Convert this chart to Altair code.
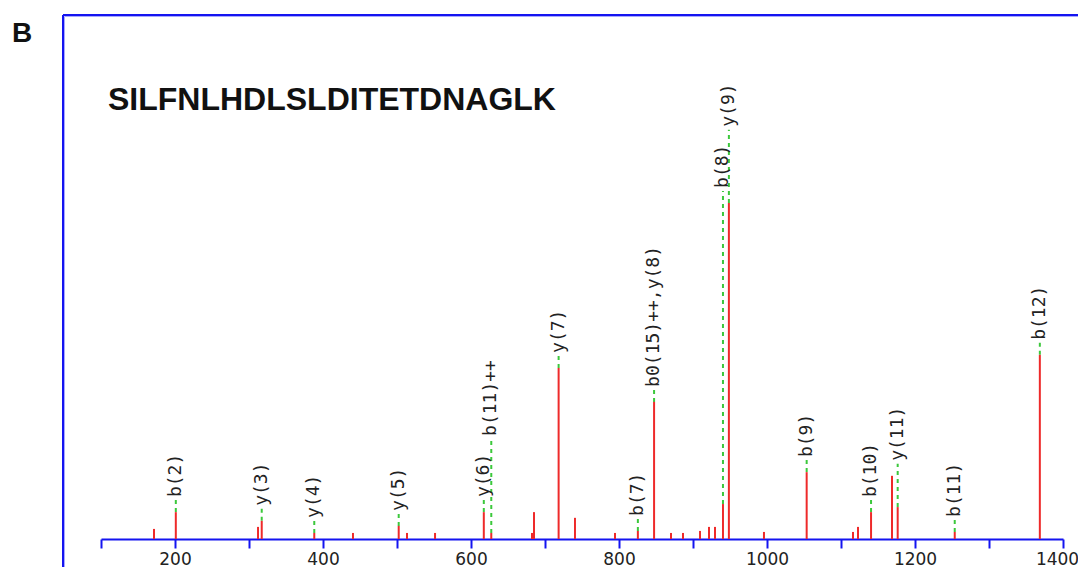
import altair as alt
import pandas as pd

# ---------------- data ----------------
peak_mz = [171.6, 201.1, 312.2, 317.2, 388.2, 440.5, 502.3, 513.5, 551.4, 617.3,
           627.4, 682.4, 685.1, 718.4, 740.5, 794.6, 825.5, 847.4, 870.3, 886.5,
           909.5, 921.6, 929.7, 940.5, 948.5, 995.9, 1053.6, 1116.2, 1123.0, 1140.6,
           1168.9, 1176.6, 1253.7, 1368.7]
peak_int = [3.0, 8.0, 3.6, 5.4, 1.8, 1.8, 3.9, 1.8, 1.8, 8.0,
            1.8, 1.8, 8.0, 50.9, 6.3, 1.8, 2.4, 40.8, 1.8, 1.8,
            2.4, 3.6, 3.6, 10.4, 100.0, 2.1, 19.9, 2.1, 3.6, 8.0,
            18.8, 9.5, 2.1, 54.8]
ion_labels = ["b(2)", "y(3)", "y(4)", "y(5)", "y(6)", "b(11)++", "y(7)", "b(7)",
              "b0(15)++,y(8)", "b(8)", "y(9)", "b(9)", "b(10)", "y(11)", "b(11)", "b(12)"]
ion_mz = [201.1, 317.2, 388.2, 502.3, 617.3, 627.4, 718.4, 825.5,
          847.4, 940.5, 948.5, 1053.6, 1140.6, 1176.6, 1253.7, 1368.7]
x_ticks = list(range(100, 1401, 100))
peptide = "SILFNLHDLSLDITETDNAGLK"
panel = "B"

# ---------------- layout ----------------
X_MIN, X_MAX = 100, 1400
Y_MAX = 158
PLOT_W, PLOT_H = 962, 531
PX_X = PLOT_W / (X_MAX - X_MIN)
PX_Y = PLOT_H / Y_MAX
CHAR_PX = 10.8     # advance of one label character
GAP_PEAK = 15      # px between peak top and label
GAP_LABEL = 18     # px between stacked labels

peaks = pd.DataFrame({"mz": peak_mz, "intensity": peak_int})

# place labels above local peaks, stacking them when they collide
placed = []
rows = []
for name, mz in zip(ion_labels, ion_mz):
    own = min(zip(peak_mz, peak_int), key=lambda p: abs(p[0] - mz))[1]
    near = max(i for m, i in zip(peak_mz, peak_int) if abs(m - mz) * PX_X <= 10)
    base = near * PX_Y + GAP_PEAK
    length = len(name) * CHAR_PX
    changed = True
    while changed:
        changed = False
        for (m2, b2, l2) in placed:
            if abs(m2 - mz) * PX_X < 16 and base < b2 + l2 + GAP_LABEL and base + length + GAP_LABEL > b2:
                base = b2 + l2 + GAP_LABEL
                changed = True
    placed.append((mz, base, length))
    rows.append({"mz": mz, "label": name, "own": own,
                 "base": base / PX_Y, "dash_top": (base - 3) / PX_Y})
labels = pd.DataFrame(rows)

yscale = alt.Scale(domain=[0, Y_MAX], nice=False, zero=True)
xscale = alt.Scale(domain=[X_MIN, X_MAX], nice=False, zero=False)

BLUE = "#1414f0"
RED = "#ee2a2a"
GREEN = "#3cc83c"

xaxis = alt.Axis(values=x_ticks, title=None, grid=False,
                 labelExpr="datum.value % 200 == 0 ? format(datum.value, 'd') : ''",
                 domainColor=BLUE, domainWidth=2, tickColor=BLUE, tickWidth=2, tickSize=9,
                 labelFont="DejaVu Sans", labelFontSize=17, labelColor="#222222",
                 labelOffset=alt.ConditionalAxisNumber(
                     condition={"test": "datum.value == 1400", "value": -6}, value=0),
                 labelPadding=3, labelFlush=False, labelOverlap=False)

dashes = alt.Chart(labels).mark_rule(color=GREEN, strokeWidth=2, strokeDash=[4, 4]).encode(
    x=alt.X("mz:Q", scale=xscale, axis=xaxis),
    y=alt.Y("own:Q", scale=yscale, axis=None),
    y2="dash_top:Q",
)

sticks = alt.Chart(peaks).mark_rule(color=RED, strokeWidth=2).encode(
    x=alt.X("mz:Q", scale=xscale),
    y=alt.Y("intensity:Q", scale=yscale),
    y2=alt.datum(0),
)

texts = alt.Chart(labels).mark_text(angle=270, align="left", baseline="middle",
                                    font="DejaVu Sans Mono", fontSize=18, color="#222222").encode(
    x=alt.X("mz:Q", scale=xscale),
    y=alt.Y("base:Q", scale=yscale),
    text="label:N",
)

one = pd.DataFrame({"k": [0]})
frame_left = alt.Chart(one).mark_rule(color=BLUE, strokeWidth=2).encode(
    x=alt.value(-38), y=alt.value(7), y2=alt.value(600))
frame_top = alt.Chart(one).mark_rule(color=BLUE, strokeWidth=2).encode(
    x=alt.value(-38), x2=alt.value(1000), y=alt.value(7))
frame_in_l = alt.Chart(one).mark_rule(color="#a8a8ff", strokeWidth=1).encode(
    x=alt.value(-36.5), y=alt.value(8.5), y2=alt.value(600))
frame_in_t = alt.Chart(one).mark_rule(color="#a8a8ff", strokeWidth=1).encode(
    x=alt.value(-36.5), x2=alt.value(1000), y=alt.value(8.5))

title_txt = alt.Chart(pd.DataFrame({"t": [peptide]})).mark_text(
    align="left", baseline="alphabetic", font="Liberation Sans", fontWeight="bold",
    fontSize=32, color="#111111").encode(x=alt.value(7), y=alt.value(102), text="t:N")
panel_txt = alt.Chart(pd.DataFrame({"t": [panel]})).mark_text(
    align="left", baseline="alphabetic", font="Liberation Sans", fontWeight="bold",
    fontSize=28, color="#111111").encode(x=alt.value(-89), y=alt.value(34), text="t:N")

chart = alt.layer(frame_in_l, frame_in_t, frame_left, frame_top, dashes, sticks, texts,
                  title_txt, panel_txt).properties(
    width=PLOT_W, height=PLOT_H,
    background="white",
    autosize=alt.AutoSizeParams(type="none"),
    padding={"left": 93, "top": 0, "right": 15, "bottom": 28},
).configure_view(stroke=None, strokeWidth=0)

chart.save("out.html", embed_options={"renderer": "svg", "actions": False})
